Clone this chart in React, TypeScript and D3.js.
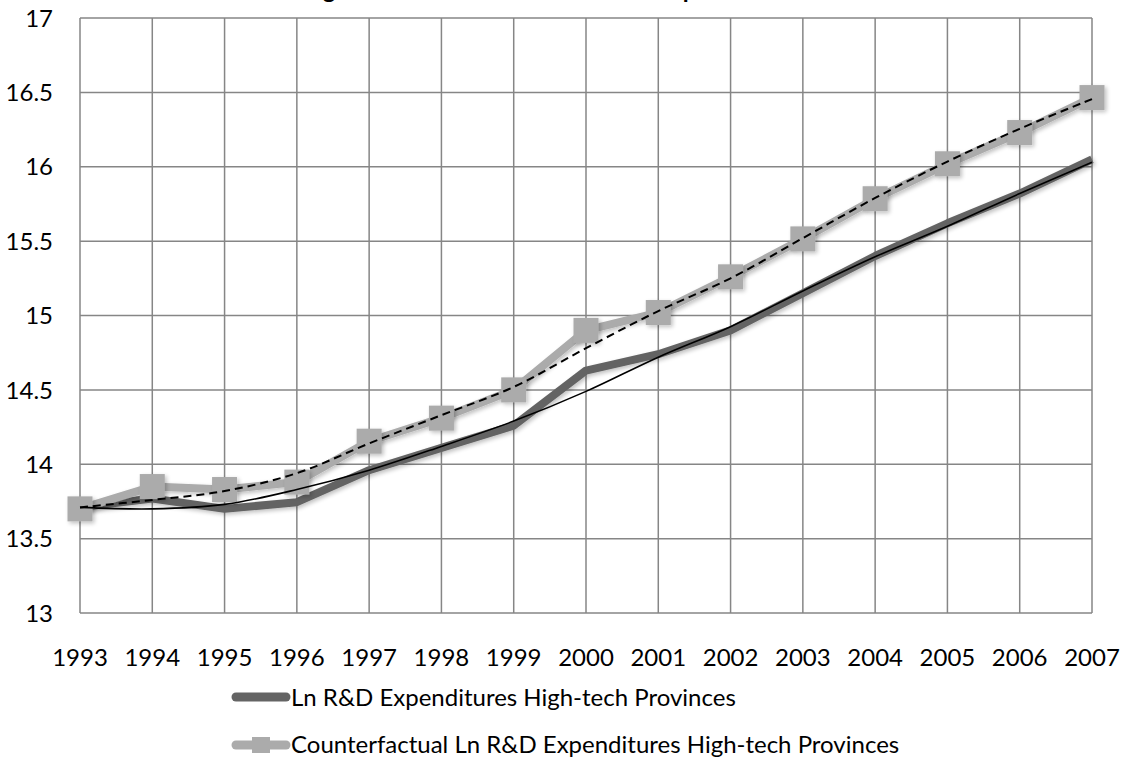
import React from "react";
import * as d3 from "d3";

const years = ["1993","1994","1995","1996","1997","1998","1999","2000","2001","2002","2003","2004","2005","2006","2007"];
const actual = [13.71,13.77,13.70,13.745,13.96,14.11,14.26,14.63,14.74,14.90,15.15,15.40,15.62,15.82,16.05];
const counterfactual = [13.70,13.85,13.83,13.88,14.155,14.31,14.50,14.90,15.02,15.26,15.515,15.785,16.02,16.23,16.465];
const actualTrend = [13.71,13.70,13.73,13.83,13.96,14.12,14.29,14.49,14.72,14.925,15.165,15.395,15.60,15.82,16.03];
const counterTrend = [13.71,13.76,13.82,13.94,14.14,14.33,14.52,14.78,15.03,15.25,15.52,15.79,16.035,16.255,16.455];
const yTicks = [13,13.5,14,14.5,15,15.5,16,16.5,17];
const legendLabels = ["Ln R&D Expenditures High-tech Provinces","Counterfactual Ln R&D Expenditures High-tech Provinces"];
const title = "Figure 6: Counterfactual Ln R&D Expenditures";

const W = 1124, H = 761;
const FONT = "Lato, 'Open Sans', sans-serif";

export default function App() {
  const x = d3.scalePoint<string>().domain(years).range([80, 1092]);
  const y = d3.scaleLinear().domain([13, 17]).range([613, 18]);
  const line = d3.line<number>().x((_, i) => x(years[i])!).y(d => y(d));
  const smooth = d3.line<number>().x((_, i) => x(years[i])!).y(d => y(d)).curve(d3.curveCatmullRom.alpha(0.5));
  const grid = "#868686";
  const c1 = "#646464";
  const c2 = "#ababab";
  const ms = 25;
  return (
    <div>
      <style>{`body{margin:0}`}</style>
      <svg width={W} height={H} style={{ display: "block", background: "#fff" }}>
        <defs>
          <filter id="soft" x="-50%" y="-50%" width="200%" height="200%">
            <feGaussianBlur in="SourceAlpha" stdDeviation="2" />
            <feOffset dx="1.5" dy="1.5" result="b" />
            <feComponentTransfer><feFuncA type="linear" slope="0.25" /></feComponentTransfer>
            <feMerge><feMergeNode /><feMergeNode in="SourceGraphic" /></feMerge>
          </filter>
        </defs>
        <text x={550} y={-2} textAnchor="middle" fontFamily={FONT} fontWeight="bold" fontSize={24} fill="#000">{title}</text>
        {yTicks.map(t => (
          <line key={"h" + t} x1={80} x2={1092} y1={y(t)} y2={y(t)} stroke={grid} strokeWidth={1.5} />
        ))}
        {years.map(yr => (
          <line key={"v" + yr} x1={x(yr)} x2={x(yr)} y1={y(17)} y2={y(13)} stroke={grid} strokeWidth={1.5} />
        ))}
        {yTicks.map(t => (
          <text key={"yt" + t} x={53} y={y(t)} dy="0.36em" textAnchor="end" fontFamily={FONT} fontSize={24} fill="#000">{String(t)}</text>
        ))}
        {years.map(yr => (
          <text key={"xt" + yr} x={x(yr)} y={665.5} textAnchor="middle" fontFamily={FONT} fontSize={24} fill="#000">{yr}</text>
        ))}
        <path d={line(actual)!} fill="none" stroke={c1} strokeWidth={8} strokeLinejoin="round" filter="url(#soft)" />
        <path d={line(counterfactual)!} fill="none" stroke={c2} strokeWidth={8} strokeLinejoin="round" filter="url(#soft)" />
        {counterfactual.map((v, i) => (
          <rect key={"m" + i} x={x(years[i])! - ms / 2} y={y(v) - ms / 2} width={ms} height={ms} fill={c2} filter="url(#soft)" />
        ))}
        <path d={smooth(actualTrend)!} fill="none" stroke="#000" strokeWidth={1.6} />
        <path d={smooth(counterTrend)!} fill="none" stroke="#000" strokeWidth={2} strokeDasharray="8,5" />
        <line x1={236} x2={286} y1={697} y2={697} stroke={c1} strokeWidth={9} strokeLinecap="round" />
        <text x={291} y={706} fontFamily={FONT} fontSize={24} fill="#000">{legendLabels[0]}</text>
        <line x1={236} x2={286} y1={745} y2={745} stroke={c2} strokeWidth={9} strokeLinecap="round" />
        <rect x={252} y={737} width={18} height={16} fill={c2} />
        <text x={291} y={752.5} fontFamily={FONT} fontSize={24} fill="#000">{legendLabels[1]}</text>
      </svg>
    </div>
  );
}
